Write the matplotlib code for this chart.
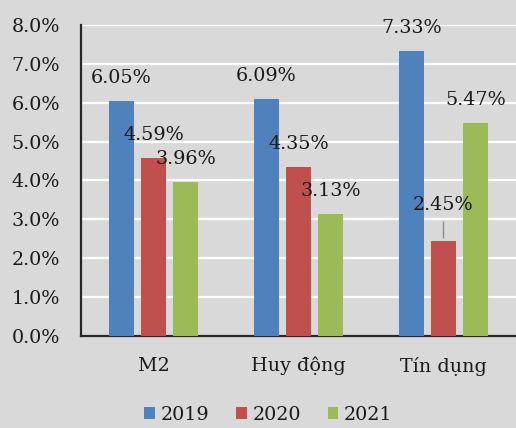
import numpy as np
import matplotlib
matplotlib.use("Agg")
import matplotlib.pyplot as plt

categories = ["M2", "Huy động", "Tín dụng"]
years = ["2019", "2020", "2021"]
v2019 = [6.05, 6.09, 7.33]
v2020 = [4.59, 4.35, 2.45]
v2021 = [3.96, 3.13, 5.47]
colors = ["#4f81bd", "#c0504d", "#9bbb59"]
bg = "#d9d9d9"

plt.rcParams['font.family'] = ['DejaVu Serif']
fs = 13.8

fig = plt.figure(figsize=(5.16, 4.28), dpi=100, facecolor=bg)
ax = fig.add_axes([81/516, 92/428, 435/516, 311/428], facecolor=bg)

x = np.arange(len(categories))
w = 0.172
step = 0.22
series = [v2019, v2020, v2021]
for i, (vals, c, yr) in enumerate(zip(series, colors, years)):
    pos = x + (i - 1) * step
    ax.bar(pos, vals, width=w, color=c, label=yr, zorder=3)
    for p, v in zip(pos, vals):
        dy = 16.5
        if v == 2.45:
            # label pushed up with a leader line
            dy = 26
            ax.annotate("", xy=(p, v), xytext=(p, v + 0.55),
                        arrowprops=dict(arrowstyle="-", color="#8c8c8c", lw=1),
                        zorder=4)
        ax.annotate(f"{v:.2f}%", xy=(p, v), xytext=(0, dy),
                    textcoords="offset points", ha="center", va="center",
                    fontsize=fs, color="#1a1a1a", zorder=5)

ax.set_ylim(0, 8)
ax.set_xlim(-0.5, 2.5)
ax.set_yticks(np.arange(0, 9, 1))
ax.set_yticklabels([f"{t:.1f}%" for t in range(9)], fontsize=fs, color="#1a1a1a")
ax.set_xticks(x)
ax.set_xticklabels(categories, fontsize=fs, color="#1a1a1a")
ax.tick_params(axis="x", length=0, pad=15)
ax.tick_params(axis="y", length=0, pad=15)
ax.grid(axis="y", color="white", lw=1.6, zorder=0)
for s in ["top", "right"]:
    ax.spines[s].set_visible(False)
for s in ["left", "bottom"]:
    ax.spines[s].set_color("#262626")
    ax.spines[s].set_linewidth(1.6)

leg = fig.legend(loc="lower center", bbox_to_anchor=(0.52, -0.03), ncol=3,
                 frameon=False, prop={"family": "DejaVu Serif", "size": fs},
                 handlelength=0.55, handleheight=0.55,
                 handletextpad=0.3, columnspacing=1.4)
for t in leg.get_texts():
    t.set_color("#1a1a1a")

fig.savefig("out.png", dpi=100, facecolor=bg)
